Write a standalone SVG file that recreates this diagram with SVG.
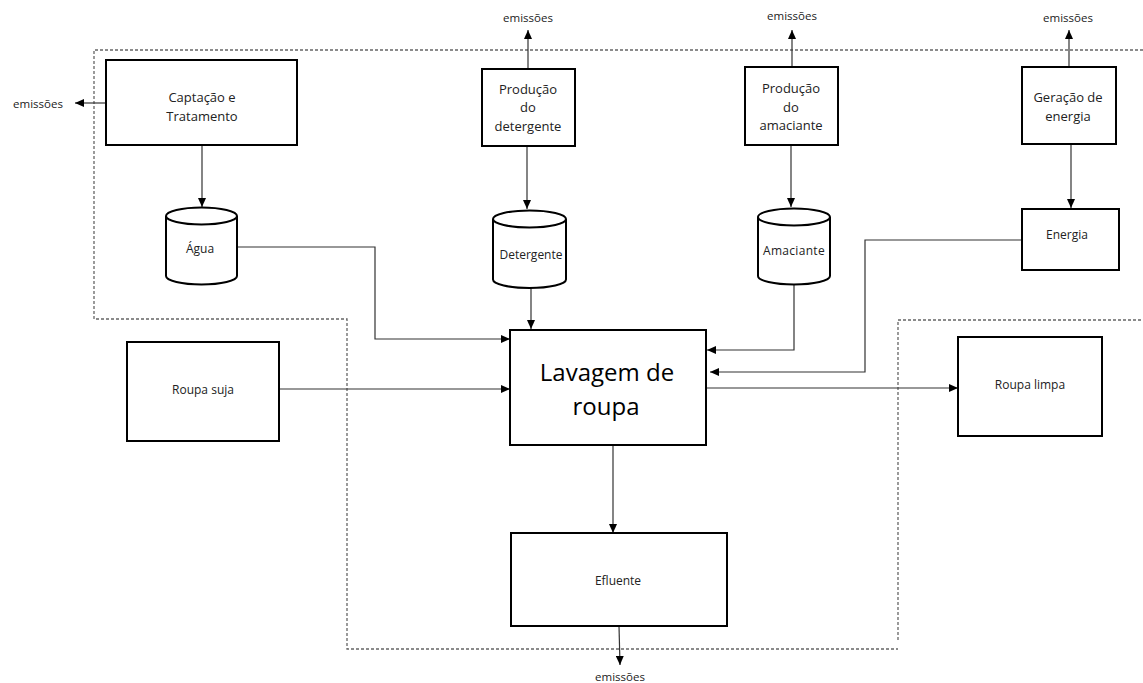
<svg xmlns="http://www.w3.org/2000/svg" width="1143" height="683" viewBox="0 0 1143 683">
<style>
  .box{fill:#fff;stroke:#000;stroke-width:2}
  .cyl{fill:#fff;stroke:#000;stroke-width:2}
  .t{font-family:"Open Sans","Noto Sans",sans-serif;font-size:12px;fill:#222;text-anchor:middle;dominant-baseline:central}
  .t13{font-size:13px}
  .em{font-family:"Open Sans","Noto Sans",sans-serif;font-size:11.5px;fill:#222;text-anchor:middle;dominant-baseline:central}
  .big{font-family:"Open Sans","Noto Sans",sans-serif;font-size:24px;fill:#000;text-anchor:middle;dominant-baseline:central}
  .c{fill:none;stroke:#333;stroke-width:1.2;marker-end:url(#ah)}
  .bd{fill:none;stroke:#666;stroke-width:1.3;stroke-dasharray:3,2}
</style>
<defs>
  <marker id="ah" markerUnits="userSpaceOnUse" markerWidth="9" markerHeight="8" refX="9" refY="4" orient="auto">
    <path d="M0,0 L9,4 L0,8 Z" fill="#000"/>
  </marker>
</defs>
<rect width="1143" height="683" fill="#fff"/>

<g id="boundary">
  <path class="bd" d="M1143,50 H94 V319 H347 V649 H898"/>
  <path class="bd" d="M898,640 V320 H1143"/>
</g>

<g id="connectors">
  <path class="c" d="M106,103 H75"/>
  <path class="c" d="M202,145 V207"/>
  <path class="c" d="M237,247 H375 V339 H510"/>
  <path class="c" d="M528,69 V30"/>
  <path class="c" d="M527,146 V209"/>
  <path class="c" d="M531,288 V329"/>
  <path class="c" d="M792,67 V30"/>
  <path class="c" d="M791,145 V207"/>
  <path class="c" d="M794,285 V350 H707"/>
  <path class="c" d="M1069,67 V30"/>
  <path class="c" d="M1071,144 V208"/>
  <path class="c" d="M1022,240 H865 V372 H710"/>
  <path class="c" d="M279,389 H510"/>
  <path class="c" d="M706,388 H958"/>
  <path class="c" d="M613,445 V533"/>
  <path class="c" d="M619,626 L620,665"/>
</g>

<g id="emissoes-labels">
  <text class="em" x="38" y="103">emissões</text>
  <text class="em" x="528" y="17">emissões</text>
  <text class="em" x="792" y="15">emissões</text>
  <text class="em" x="1068" y="17">emissões</text>
  <text class="em" x="620" y="676">emissões</text>
</g>

<g id="captacao">
  <rect class="box" x="106" y="60" width="191" height="85"/>
  <text class="t t13" x="202" y="97">Captação e</text>
  <text class="t t13" x="202" y="116">Tratamento</text>
</g>

<g id="agua">
  <path class="cyl" d="M166,216 A35.5,8.5 0 0 1 237,216 V276 A35.5,8.5 0 0 1 166,276 Z"/>
  <path class="cyl" fill="none" d="M166,216 A35.5,8.5 0 0 0 237,216"/>
  <text class="t" x="200" y="248">Água</text>
</g>

<g id="producao-detergente">
  <rect class="box" x="482" y="69" width="93" height="77"/>
  <text class="t t13" x="528" y="89">Produção</text>
  <text class="t t13" x="528" y="107">do</text>
  <text class="t t13" x="528" y="126">detergente</text>
</g>

<g id="detergente">
  <path class="cyl" d="M493,219 A36.5,8.5 0 0 1 566,219 V279.5 A36.5,8.5 0 0 1 493,279.5 Z"/>
  <path class="cyl" fill="none" d="M493,219 A36.5,8.5 0 0 0 566,219"/>
  <text class="t" x="531" y="254">Detergente</text>
</g>

<g id="producao-amaciante">
  <rect class="box" x="745" y="67" width="93" height="78"/>
  <text class="t t13" x="791" y="88">Produção</text>
  <text class="t t13" x="791" y="107">do</text>
  <text class="t t13" x="791" y="125">amaciante</text>
</g>

<g id="amaciante">
  <path class="cyl" d="M758,217 A36,8.5 0 0 1 830,217 V276 A36,8.5 0 0 1 758,276 Z"/>
  <path class="cyl" fill="none" d="M758,217 A36,8.5 0 0 0 830,217"/>
  <text class="t" x="794" y="250" letter-spacing="0.3">Amaciante</text>
</g>

<g id="geracao-energia">
  <rect class="box" x="1022" y="67" width="94" height="77"/>
  <text class="t t13" x="1068" y="97">Geração de</text>
  <text class="t t13" x="1068" y="116">energia</text>
</g>

<g id="energia">
  <rect class="box" x="1022" y="209" width="97" height="61"/>
  <text class="t" x="1067" y="234">Energia</text>
</g>

<g id="roupa-suja">
  <rect class="box" x="127" y="342" width="152" height="99"/>
  <text class="t" x="203" y="389">Roupa suja</text>
</g>

<g id="lavagem">
  <rect class="box" x="510" y="330" width="196" height="115"/>
  <text class="big" x="607" y="371">Lavagem de</text>
  <text class="big" x="606" y="405">roupa</text>
</g>

<g id="roupa-limpa">
  <rect class="box" x="958" y="337" width="144" height="99"/>
  <text class="t" x="1030" y="384">Roupa limpa</text>
</g>

<g id="efluente">
  <rect class="box" x="511" y="533" width="216" height="93"/>
  <text class="t" x="618" y="580">Efluente</text>
</g>
</svg>
